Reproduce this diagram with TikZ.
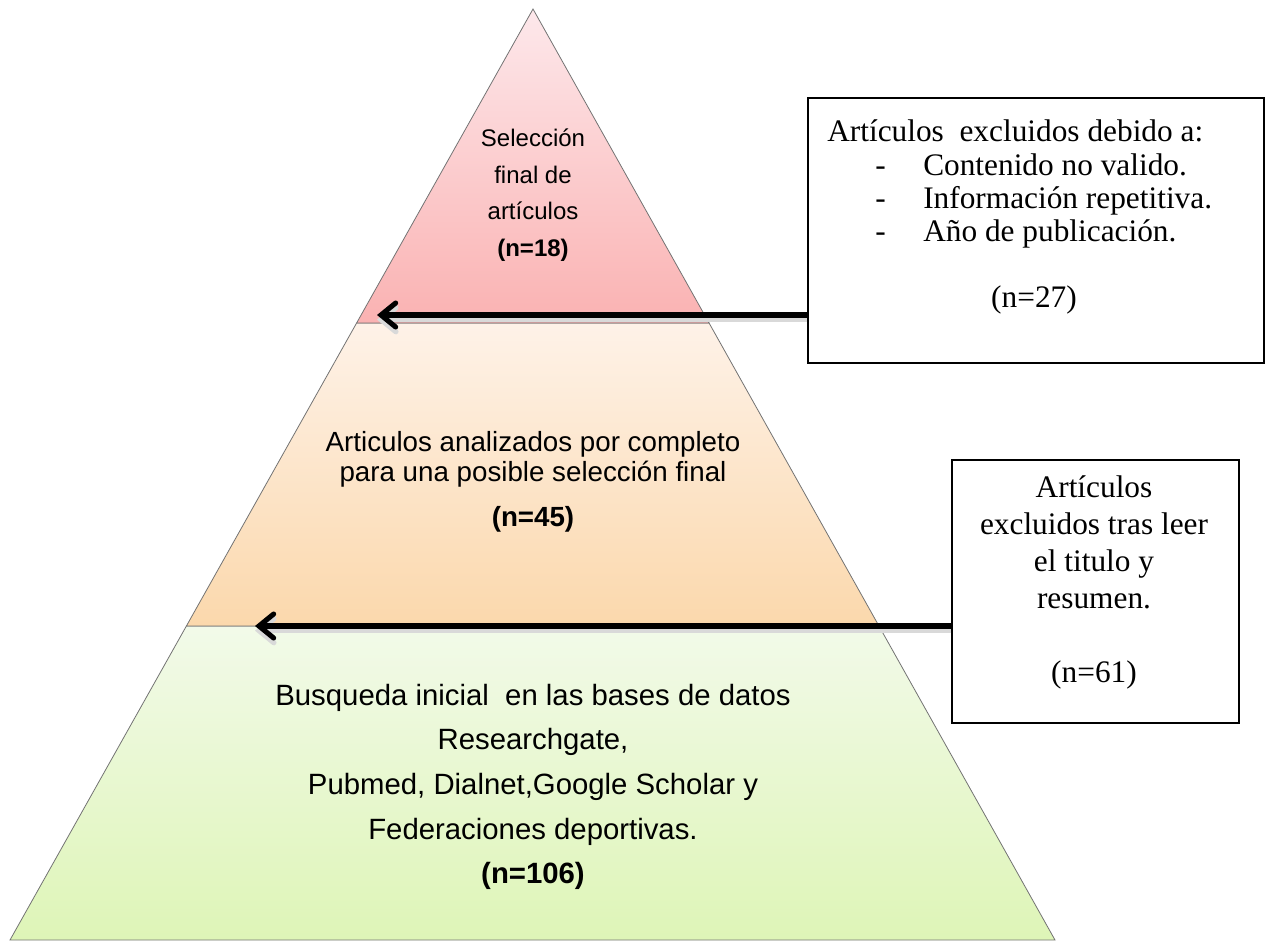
\documentclass[tikz,border=0pt]{standalone}
\usepackage{fontspec}
\setmainfont{Liberation Sans}
\newfontfamily\boxfont{Liberation Serif}
\usetikzlibrary{calc}
\usetikzlibrary{arrows.meta}
\definecolor{pinktop}{RGB}{253,232,235}
\definecolor{pinkbot}{RGB}{250,178,178}
\definecolor{peachtop}{RGB}{254,242,232}
\definecolor{peachbot}{RGB}{251,216,172}
\definecolor{greentop}{RGB}{242,250,233}
\definecolor{greenbot}{RGB}{222,245,183}
\newcommand{\layer}[6]{\shadedraw[band, top color=#5, bottom color=#6] (#1) -- (#2) -- (#3) -- (#4) -- cycle;}

\begin{document}
\begin{tikzpicture}[x=0.75pt, y=-0.75pt,
    band/.style={draw=black!55, line width=0.6pt},
    exclbox/.style={draw=black, line width=1.6pt, fill=white, inner sep=0pt, anchor=north west},
    boxtxt/.style={font=\boxfont\fontsize{23.5}{26}\selectfont, inner sep=0pt},
    lvltxt/.style={align=center, inner sep=0pt},
    cutarrow/.style={line width=3.8pt, -{Straight Barb[length=11pt,width=18pt,line cap=round]},
        preaction={draw=black!15, line width=4pt, transform canvas={yshift=-3.5pt}}}]
        \useasboundingbox (0,0) rectangle (1269,943);
        % pyramid
        \coordinate (apex) at (533,9);
        \coordinate (bl) at (10,940);
        \coordinate (br) at (1055,940);
        \coordinate (l1) at ($(apex)!0.3373!(bl)$);
        \coordinate (r1) at ($(apex)!0.3373!(br)$);
        \coordinate (l2) at ($(apex)!0.6627!(bl)$);
        \coordinate (r2) at ($(apex)!0.6627!(br)$);
        \layer{l2}{r2}{br}{bl}{greentop}{greenbot}
        \layer{l1}{r1}{r2}{l2}{peachtop}{peachbot}
        \layer{apex}{apex}{r1}{l1}{pinktop}{pinkbot}
        % levels
        \node[lvltxt, font=\fontsize{18}{27.5}\selectfont] (sel) at (533,195)
            {Selección\\final de\\artículos\\\textbf{(n=18)}};
        \node[lvltxt, font=\fontsize{20.8}{22.5}\selectfont] (anal) at (533,482)
            {Articulos analizados por completo\\para una posible selección final\\[11pt]\textbf{(n=45)}};
        \node[lvltxt, font=\fontsize{22}{33.5}\selectfont] (busq) at (533,787)
            {Busqueda inicial\ \ en las bases de datos\\Researchgate,\\Pubmed, Dialnet,Google Scholar y\\Federaciones deportivas.\\\textbf{(n=106)}};
        % box 1
        \node[exclbox, minimum width=342pt, minimum height=198.75pt] (excl1) at (807,97) {};
        \node[boxtxt, anchor=base west] (head1) at (827,141) {Artículos\ \ excluidos debido a:};
        \foreach \y/\t in {175/Contenido no valido., 208/Información repetitiva., 241/Año de publicación.} {
            \node[boxtxt, anchor=base west] (item\y) at (875,\y) {\makebox[36pt][l]{-}\t};
        }
        \node[boxtxt] (n27) at (1034,300) {(n=27)};
        % box 2
        \node[exclbox, minimum width=215.25pt, minimum height=197.25pt] (excl2) at (951,459) {};
        \node[boxtxt, align=center, font=\boxfont\fontsize{23.5}{27.75}\selectfont] (n61) at (1094,582)
            {Artículos\\excluidos tras leer\\el titulo y\\resumen.\\[27.75pt](n=61)};
        % arrows
        \coordinate (tip1) at (377,315);
        \coordinate (tip2) at (255,626);
        \draw[cutarrow] (excl1.west |- tip1) -- (tip1);
        \draw[cutarrow] (excl2.west |- tip2) -- (tip2);
\end{tikzpicture}
\end{document}
